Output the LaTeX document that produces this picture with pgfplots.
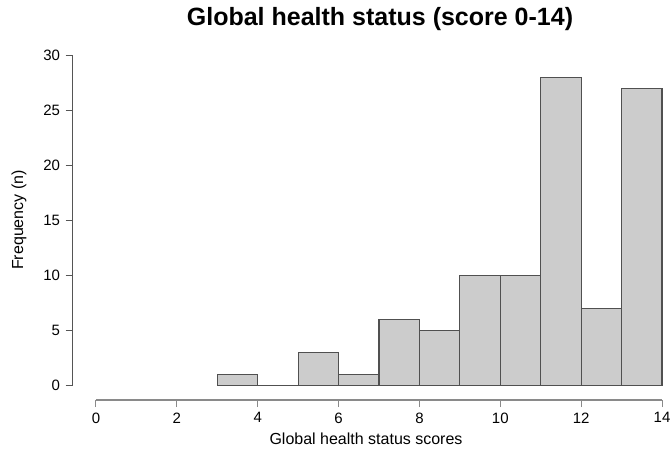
\documentclass[border=0pt]{standalone}
\usepackage{pgfplots}
\pgfplotsset{compat=1.18}
\usepackage{fontspec}
\setmainfont{Liberation Sans}

\definecolor{barfill}{HTML}{CCCCCC}
\definecolor{barline}{HTML}{505050}
\definecolor{yaxisline}{HTML}{555555}
\definecolor{xaxisline}{HTML}{8A8A8A}

\begin{document}
\begin{tikzpicture}[x=1pt,y=1pt]
  % fixed canvas
  \path[use as bounding box] (0,0) rectangle (672,450);

  \begin{axis}[
      at={(72.5pt,50pt)}, anchor=south west,
      scale only axis,
      width=589.5pt, height=344.5pt,
      xmin=-0.581, xmax=14,
      ymin=-1.309, ymax=30,
      clip=false,
      axis x line*=bottom, axis y line*=left,
      x axis line style={draw=none},
      y axis line style={draw=none},
      xtick={0,2,...,14}, ytick={0,5,...,30},
      tick align=outside,
      major tick length=7pt,
      x tick style={xaxisline, line width=1pt},
      y tick style={yaxisline, line width=1pt},
      /pgf/number format/assume math mode=true,
      ticklabel style={font=\fontsize{15}{18}\selectfont, text=black},
      xticklabel style={yshift=-2pt},
      yticklabel style={xshift=-2pt},
    ]
    % frequency of each unit-wide score bin
    \addplot[ybar interval, fill=barfill, draw=barline, line width=1.2pt]
      coordinates {
        (3,1) (4,0) (5,3) (6,1) (7,6) (8,5) (9,10)
        (10,10) (11,28) (12,7) (13,27) (14,27)
      };
    % axis lines spanning the tick range only
    \draw[xaxisline, line width=1.2pt] (axis cs:0,-1.309) -- (axis cs:14,-1.309);
    \draw[yaxisline, line width=1.1pt] (axis cs:-0.581,0) -- (axis cs:-0.581,30);
  \end{axis}

  \node[font=\fontsize{25}{29}\selectfont\bfseries] at (380,431) {Global health status (score 0-14)};
  \node[font=\fontsize{16}{19}\selectfont] at (366,11) {Global health status scores};
  \node[font=\fontsize{16}{19}\selectfont, rotate=90] at (19,230) {Frequency (n)};
\end{tikzpicture}
\end{document}
